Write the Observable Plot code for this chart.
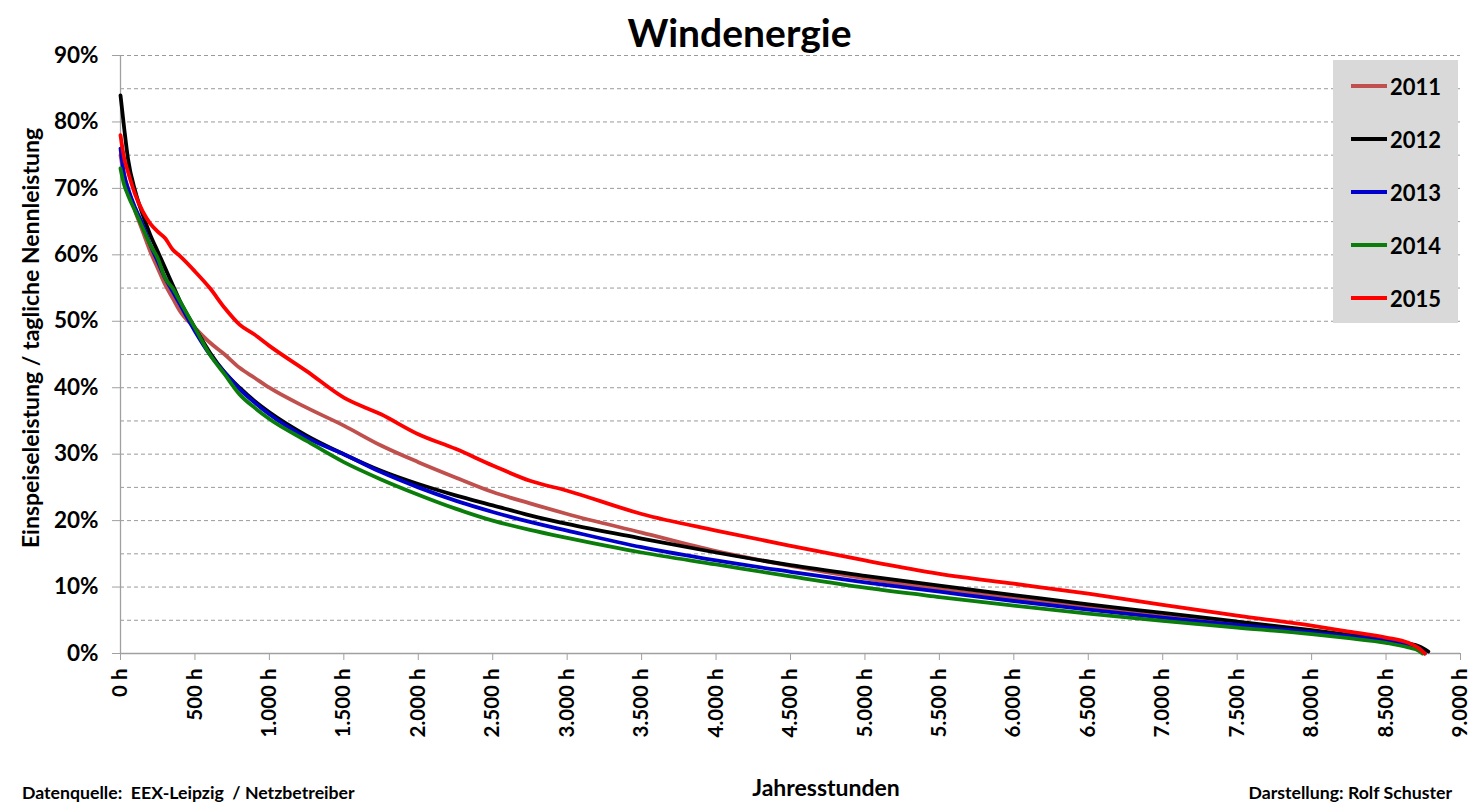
<!DOCTYPE html>
<html>
<head>
<meta charset="utf-8">
<script src="https://cdn.jsdelivr.net/npm/d3@7"></script>
<script src="https://cdn.jsdelivr.net/npm/@observablehq/plot@0.6"></script>
<style>
  html, body { margin: 0; padding: 0; background: #fff; }
  #wrap { position: relative; width: 1483px; height: 810px; font-family: Lato, "Open Sans", sans-serif; font-weight: bold; color: #000; }
  #wrap svg { position: absolute; left: 0; top: 0; }
  .abs { position: absolute; white-space: nowrap; }
</style>
</head>
<body>
<div id="wrap"></div>
<script>
// ---- data (percent of daily rated capacity, sorted duration curves) ----
const years = ["2011", "2012", "2013", "2014", "2015"];
const colors = ["#c0504d", "#000000", "#0000cc", "#0a7d0a", "#ff0000"];
const hours = [0, 25, 50, 100, 150, 200, 250, 300, 350, 400, 500, 600, 700, 800, 900, 1000, 1250, 1500, 1750, 2000, 2250, 2500, 2750, 3000, 3500, 4000, 4500, 5000, 5500, 6000, 6500, 7000, 7500, 8000, 8250, 8500, 8650, 8720];
const v2011 = [75, 72, 70, 66.5, 63.5, 60.5, 58, 55.5, 53.5, 51.5, 49, 46.8, 45, 43, 41.5, 40, 37, 34.3, 31.3, 28.8, 26.5, 24.3, 22.6, 21, 18.2, 15.4, 13.2, 11.3, 9.7, 8.3, 6.9, 5.6, 4.4, 3.2, 2.6, 1.9, 1.2, 0.6];
const v2012 = [84, 79, 74.5, 69.5, 66, 63, 60.5, 58, 55.5, 53, 49, 45.3, 42.3, 40, 38, 36.3, 32.8, 30, 27.5, 25.5, 23.8, 22.3, 20.8, 19.5, 17.3, 15.2, 13.3, 11.7, 10.2, 8.8, 7.4, 6.1, 4.8, 3.5, 2.8, 2.1, 1.5, 1.1];
const v2013 = [76, 72, 70, 67, 64.5, 61.5, 59, 56.5, 54.5, 52.5, 48.5, 45, 42.3, 39.8, 37.8, 36, 32.5, 30, 27.3, 25, 23, 21.3, 19.8, 18.5, 16, 14, 12.3, 10.7, 9.3, 7.9, 6.6, 5.4, 4.3, 3.2, 2.6, 1.9, 1.3, 0.8];
const v2014 = [73, 70.5, 69, 66.5, 64, 61.5, 59.5, 56.5, 55, 53, 49, 45, 42, 39, 37, 35.3, 32, 28.8, 26.2, 23.9, 21.8, 20, 18.6, 17.4, 15.2, 13.4, 11.6, 9.9, 8.5, 7.2, 6, 4.9, 3.9, 2.9, 2.3, 1.6, 0.9, 0.4];
const v2015 = [78, 74.5, 72.5, 69, 66.5, 64.7, 63.5, 62.5, 60.8, 59.8, 57.5, 55, 52, 49.5, 48, 46.3, 42.5, 38.5, 36, 33, 30.8, 28.3, 26, 24.5, 21, 18.5, 16.2, 14, 12, 10.5, 9, 7.3, 5.7, 4.2, 3.3, 2.4, 1.6, 0.8];
const endHours = [8760, 8784, 8760, 8745, 8760];
const endVals = [0, 0.3, 0, 0, 0];
const seriesVals = [v2011, v2012, v2013, v2014, v2015];
const xTicks = d3.range(0, 9001, 500);
const yTicks = d3.range(0, 0.901, 0.1);
const gridTicks = d3.range(0.05, 0.901, 0.05);

// build table
const rows = [];
years.forEach((y, i) => {
  hours.forEach((h, j) => rows.push({year: y, h, v: seriesVals[i][j] / 100}));
  rows.push({year: y, h: endHours[i], v: endVals[i] / 100});
});

const fmtH = d => d3.format(",")(d).replace(/,/g, ".") + " h";

const chart = Plot.plot({
  width: 1483,
  height: 810,
  marginTop: 55,
  marginBottom: 157,
  marginLeft: 120,
  marginRight: 23,
  style: {fontFamily: "Lato, 'Open Sans', sans-serif", fontWeight: "bold", background: "transparent", color: "#000"},
  x: {domain: [0, 9000]},
  y: {domain: [0, 0.9]},
  color: {domain: years, range: colors},
  marks: [
    Plot.gridY(gridTicks, {stroke: "#9a9a9a", strokeOpacity: 1, strokeDasharray: "4,3", strokeWidth: 1}),
    Plot.ruleX([0], {stroke: "#a0a0a0", strokeWidth: 1.3}),
    Plot.ruleY([0], {stroke: "#a0a0a0", strokeWidth: 1.3}),
    Plot.axisY({ticks: yTicks, tickFormat: d3.format(".0%"), tickSize: 8, tickPadding: 14, fontSize: 22.5, stroke: "#a0a0a0", fill: "#000", label: null}),
    Plot.axisX({ticks: xTicks, tickFormat: fmtH, tickSize: 7, tickPadding: 8, tickRotate: -90, fontSize: 20.5, stroke: "#a0a0a0", fill: "#000", label: null}),
    Plot.line(rows, {x: "h", y: "v", z: "year", stroke: "year", strokeWidth: 3.8, curve: "monotone-x", strokeLinejoin: "round", strokeLinecap: "round"})
  ]
});

const wrap = document.getElementById("wrap");
wrap.appendChild(chart);

function addText(txt, css) {
  const d = document.createElement("div");
  d.className = "abs";
  d.textContent = txt;
  Object.assign(d.style, css);
  wrap.appendChild(d);
  return d;
}
addText("Windenergie", {left: "0px", width: "1483px", textAlign: "center", top: "9px", fontSize: "39px", transform: "translateX(-2px)"});
addText("Einspeiseleistung / tagliche Nennleistung", {left: "30px", top: "338px", fontSize: "23px", transform: "translate(-50%,-50%) rotate(-90deg)", transformOrigin: "center"});
addText("Jahresstunden", {left: "826px", top: "787px", fontSize: "23px", transform: "translate(-50%,-50%)"});
addText("Datenquelle:  EEX-Leipzig  / Netzbetreiber", {left: "22px", top: "782px", fontSize: "17.7px", whiteSpace: "pre"});
addText("Darstellung: Rolf Schuster", {right: "31px", top: "782px", fontSize: "17.7px"});

// legend box
const leg = document.createElement("div");
leg.className = "abs";
Object.assign(leg.style, {left: "1333px", top: "60px", width: "125px", height: "263px", background: "#d9d9d9"});
wrap.appendChild(leg);
years.forEach((y, i) => {
  const row = document.createElement("div");
  row.className = "abs";
  Object.assign(row.style, {left: "18px", top: (26 + i * 53 - 13) + "px", height: "26px", display: "flex", alignItems: "center"});
  const sw = document.createElement("span");
  Object.assign(sw.style, {display: "inline-block", width: "36px", height: "3.5px", background: colors[i], marginRight: "3px"});
  const tx = document.createElement("span");
  tx.textContent = y;
  tx.style.fontSize = "22px";
  row.appendChild(sw); row.appendChild(tx);
  leg.appendChild(row);
});
</script>
</body>
</html>
